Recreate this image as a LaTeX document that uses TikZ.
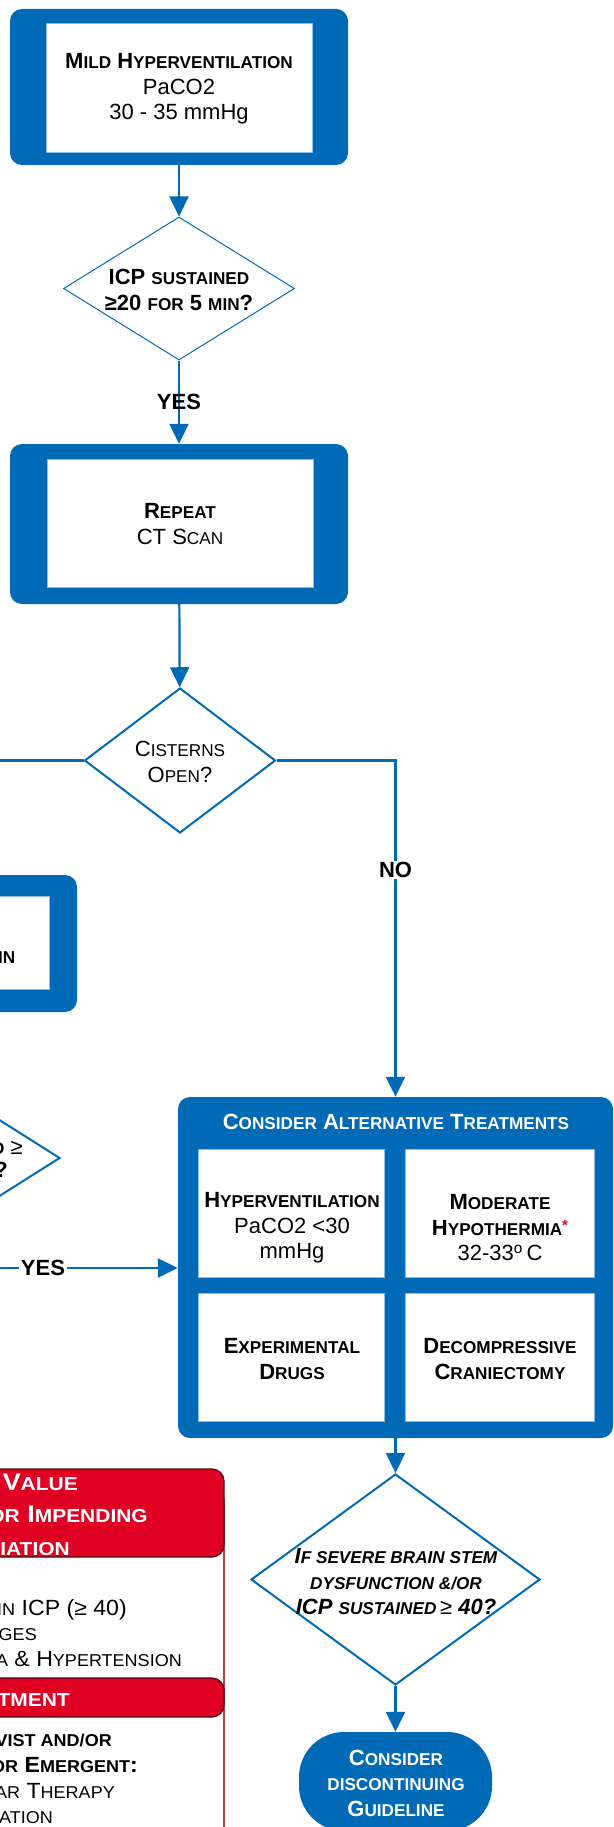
\documentclass[tikz,border=0pt]{standalone}
\usepackage{fontspec}
\setmainfont{Liberation Sans}
\usetikzlibrary{arrows.meta,shapes.geometric}
\definecolor{bl}{RGB}{0,106,182}
\definecolor{rd}{RGB}{224,0,36}
\definecolor{rdb}{RGB}{175,70,70}
\definecolor{rdk}{RGB}{70,10,10}
\makeatletter
\newcommand\SC[1]{{\fontsize{\strip@pt\dimexpr0.78\dimexpr\f@size pt\relax\relax}{\f@baselineskip}\selectfont #1}}
\makeatother
\tikzset{
  outerbox/.style={fill=bl, rounded corners=12pt, inner sep=0pt, draw=none},
  innerbox/.style={fill=white, draw=bl!45, line width=0.6pt, inner sep=0pt},
  dia/.style={diamond, draw=bl, fill=white, inner sep=0pt},
  txt/.style={align=center, inner sep=0pt, font=\fontsize{22}{25.5}\selectfont},
  conn/.style={draw=bl, line width=2.2pt},
  arr/.style={conn, -{Triangle[length=20pt,width=19pt]}},
  lbl/.style={font=\fontsize{22}{25.5}\selectfont\bfseries, inner sep=1.5pt, fill=white},
  redhead/.style={fill=rd, draw=rdk, line width=1.2pt, rounded corners=12pt, inner sep=0pt, minimum width=400pt},
  rtxt/.style={anchor=base east, inner sep=0pt, font=\fontsize{22}{25.5}\selectfont\addfontfeature{FakeStretch=1.05}},
  htxt/.style={anchor=base east, inner sep=0pt, text=white, font=\fontsize{24}{28}\selectfont\bfseries\addfontfeature{FakeStretch=1.12}},
}
\begin{document}
\begin{tikzpicture}[x=1pt,y=-1pt]
\useasboundingbox (0,0) rectangle (613,1827);
\clip (0,0) rectangle (613,1827);

% ---------- box 1
\node[outerbox, minimum width=338pt, minimum height=156pt] (b1) at (179,87) {};
\node[innerbox, minimum width=266pt, minimum height=129pt] (b1i) at (179,87.5) {};
\node[txt] (b1t) at (179,89) {\textbf{M\SC{ILD} H\SC{YPERVENTILATION}}\\PaCO2\\30 - 35 mmHg};

% ---------- diamond 1
\node[dia, line width=1pt, minimum width=231pt, minimum height=143pt] (d1) at (179,288.5) {};
\node[txt] (d1t) at (179,290) {\textbf{ICP \SC{SUSTAINED}}\\\textbf{≥20 \SC{FOR} 5 \SC{MIN}?}};

% ---------- box 2
\node[outerbox, minimum width=338pt, minimum height=160pt] (b2) at (179,524) {};
\node[innerbox, minimum width=266pt, minimum height=128pt] (b2i) at (180,523) {};
\node[txt] (b2t) at (180,524) {\textbf{R\SC{EPEAT}}\\CT S\SC{CAN}};

% ---------- diamond 2
\node[dia, line width=2pt, minimum width=191pt, minimum height=145pt] (d2) at (180,760.5) {};
\node[txt] (d2t) at (180,762) {C\SC{ISTERNS}\\O\SC{PEN}?};

% ---------- left partial box
\node[outerbox, minimum width=338pt, minimum height=137pt] (lb) at (-92,943.5) {};
\node[innerbox, minimum width=282pt, minimum height=93pt] (lbi) at (-92,942.5) {};
\node[anchor=base east, inner sep=0pt, font=\fontsize{22}{25.5}\selectfont] (lbt) at (15.5,963) {\textbf{5 \SC{MIN}}};

% ---------- left partial diamond
\node[dia, line width=2pt, minimum width=226pt, minimum height=143pt] (ld) at (-53,1158) {};
\node[anchor=base east, inner sep=0pt, font=\fontsize{22}{25.5}\selectfont] (ldt1) at (23,1154) {\textbf{ICP \SC{SUSTAINED}} ≥};
\node[anchor=base east, inner sep=0pt, font=\fontsize{22}{25.5}\selectfont] (ldt2) at (8,1177) {\textbf{20 \SC{FOR} 5 \SC{MIN}?}};

% ---------- box 3
\node[outerbox, minimum width=435pt, minimum height=341pt] (b3) at (395.5,1267.5) {};
\node[txt, text=white] (b3h) at (396,1122) {\textbf{C\SC{ONSIDER} A\SC{LTERNATIVE} T\SC{REATMENTS}}};
\node[innerbox, minimum width=186pt, minimum height=128pt] (c1) at (291,1213) {};
\node[innerbox, minimum width=189pt, minimum height=128pt] (c2) at (499.5,1213) {};
\node[innerbox, minimum width=186pt, minimum height=128pt] (c3) at (291,1357) {};
\node[innerbox, minimum width=189pt, minimum height=128pt] (c4) at (499.5,1357) {};
\node[txt] (c1t) at (292,1228) {\textbf{H\SC{YPERVENTILATION}}\\PaCO2 <30\\mmHg};
\node[txt] (c2t) at (500,1228) {\textbf{M\SC{ODERATE}}\\\textbf{H\SC{YPOTHERMIA}\textcolor{rd}{\raisebox{5pt}{\fontsize{15}{15}\selectfont *}}}\\32-33\textsuperscript{o}\,C};
\node[txt] (c3t) at (292,1359) {\textbf{E\SC{XPERIMENTAL}}\\\textbf{D\SC{RUGS}}};
\node[txt] (c4t) at (500,1359) {\textbf{D\SC{ECOMPRESSIVE}}\\\textbf{C\SC{RANIECTOMY}}};

% ---------- red panel
\node[draw=rdb, line width=1.5pt, fill=white, minimum width=400pt, minimum height=400pt, inner sep=0pt] (rbody) at (24,1700) {};
\node[redhead, minimum height=88pt] (rh1) at (24,1513) {};
\node[redhead, minimum height=39pt] (rh2) at (24,1697.5) {};
\node[htxt] (h1a) at (78,1490) {C\SC{RITICAL} V\SC{ALUE}};
\node[htxt] (h1b) at (148,1522) {I\SC{NDICATORS FOR} I\SC{MPENDING}};
\node[htxt] (h1c) at (70,1555) {H\SC{ERNIATION}};
\node[rtxt] (r1) at (127,1615) {\SC{SUDDEN INCREASE IN} ICP (≥ 40)};
\node[rtxt] (r2) at (37,1640) {P\SC{UPILLARY CHANGES}};
\node[rtxt] (r3) at (182,1666) {B\SC{RADYCARDIA} \& H\SC{YPERTENSION}};
\node[htxt] (h2a) at (70,1706) {T\SC{REATMENT}};
\node[rtxt] (r4) at (112,1746) {\textbf{\SC{NEUROINTENSIVIST AND/OR}}};
\node[rtxt] (r5) at (138,1772) {\textbf{\SC{NEUROSURGEON FOR} E\SC{MERGENT}:}};
\node[rtxt] (r6) at (115,1798) {H\SC{YPEROSMOLAR} T\SC{HERAPY}};
\node[rtxt] (r7) at (53,1823) {H\SC{YPERVENTILATION}};

% ---------- diamond 3
\node[dia, line width=2pt, minimum width=289pt, minimum height=211pt] (d3) at (395.5,1579.5) {};
\node[txt, font=\fontsize{22}{25.5}\selectfont\bfseries\itshape] (d3t) at (396,1582) {I\SC{F SEVERE BRAIN STEM}\\\SC{DYSFUNCTION \&/OR}\\ICP \SC{SUSTAINED}\,{\mdseries\upshape ≥} 40?};

% ---------- terminal
\node[fill=bl, rounded corners=45pt, minimum width=193pt, minimum height=99pt, inner sep=0pt] (term) at (395.5,1781.5) {};
\node[txt, text=white, font=\fontsize{22}{25.5}\selectfont\bfseries] (termt) at (396,1783) {C\SC{ONSIDER}\\\SC{DISCONTINUING}\\G\SC{UIDELINE}};

% ---------- connectors
\coordinate (lft) at (-60,760.5);
\coordinate (lyes) at (-60,1268);
\draw[arr] (b1) -- (d1);
\draw[arr] (d1) -- (b2) node[pos=0.5, font=\fontsize{22}{25.5}\selectfont\bfseries] (yes1) {YES};
\draw[arr] (b2) -- (d2);
\draw[conn] (d2.west) -- (lft);
\draw[arr] (d2.east) -| (b3.north);
\node[lbl] (no) at (395.5,870) {NO};
\draw[arr] (lyes) -- (lyes -| b3.west);
\node[lbl] (yes2) at (43,1268) {YES};
\draw[arr] (b3) -- (d3);
\draw[arr] (d3) -- (term);
\end{tikzpicture}
\end{document}
